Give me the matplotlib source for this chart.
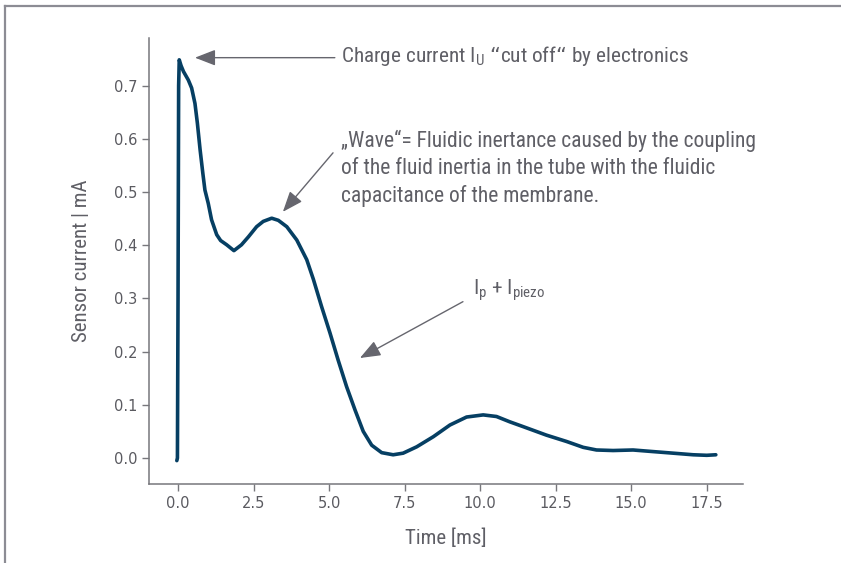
import numpy as np
import matplotlib
matplotlib.use("Agg")
import matplotlib.pyplot as plt
from matplotlib.lines import Line2D

time_ms = [-0.04, -0.02, 0.00, 0.02, 0.04, 0.10, 0.18, 0.34, 0.45, 0.56, 0.64, 0.73,
           0.82, 0.89, 1.00, 1.11, 1.28, 1.41, 1.61, 1.85, 2.10, 2.33, 2.60, 2.82,
           3.10, 3.32, 3.60, 3.93, 4.26, 4.48, 4.75, 5.03, 5.30, 5.58, 5.86, 6.13,
           6.41, 6.74, 7.12, 7.45, 7.90, 8.45, 9.00, 9.55, 10.10, 10.54, 10.98,
           11.42, 12.19, 12.86, 13.41, 13.85, 14.40, 15.06, 15.72, 16.39, 17.05,
           17.50, 17.80]
current_mA = [-0.005, 0.000, 0.300, 0.700, 0.749, 0.738, 0.727, 0.711, 0.696, 0.667,
              0.630, 0.580, 0.536, 0.504, 0.479, 0.448, 0.420, 0.409, 0.401, 0.390,
              0.401, 0.416, 0.435, 0.445, 0.451, 0.447, 0.435, 0.410, 0.373, 0.336,
              0.285, 0.235, 0.184, 0.134, 0.090, 0.050, 0.024, 0.010, 0.006, 0.009,
              0.021, 0.040, 0.062, 0.077, 0.081, 0.078, 0.068, 0.059, 0.043, 0.031,
              0.020, 0.015, 0.014, 0.015, 0.012, 0.009, 0.006, 0.005, 0.006]

note_cut = "Charge current $\\mathregular{I_U}$ \u201ccut off\u201c by electronics"
note_wave = ("\u201eWave\u201c= Fluidic inertance caused by the coupling\n"
             "of the fluid inertia in the tube with the fluidic\n"
             "capacitance of the membrane.")
note_piezo = "$\\mathregular{I_p}$ + $\\mathregular{I_{piezo}}$"

narrow = ["Liberation Sans Narrow", "Roboto Condensed", "DejaVu Sans"]
txt_col = "#5f5f66"
line_col = "#063f63"

fig = plt.figure(figsize=(8.41, 5.63), dpi=100)
ax = fig.add_axes([0.1772, 0.1403, 0.7063, 0.7922])

ax.plot(time_ms, current_mA, color=line_col, lw=2.6, solid_capstyle="round",
        solid_joinstyle="round")
ax.set_xlim(-0.96, 18.7)
ax.set_ylim(-0.049, 0.790)

ax.set_xticks(np.arange(0, 17.6, 2.5))
ax.set_yticks(np.arange(0, 0.71, 0.1))
ax.set_xticklabels([f"{v:.1f}" for v in np.arange(0, 17.6, 2.5)])
ax.set_yticklabels([f"{v:.1f}" for v in np.arange(0, 0.71, 0.1)])

for s in ["top", "right"]:
    ax.spines[s].set_visible(False)
for s in ["left", "bottom"]:
    ax.spines[s].set_color("#77777c")
    ax.spines[s].set_linewidth(1.1)
ax.tick_params(colors="#77777c", labelcolor="#5a5a60", labelsize=10.5, length=5, width=1.0)

ax.set_xlabel("Time [ms]", family=narrow, fontsize=15, color=txt_col, labelpad=13)
ax.set_ylabel("Sensor current | mA", family=narrow, fontsize=15, color=txt_col, labelpad=16)

arrow_kw = dict(arrowstyle="-|>,head_length=0.9,head_width=0.35", color="#66666e",
                lw=1.0, shrinkA=0, shrinkB=0, mutation_scale=14)

ax.annotate("", xy=(0.56, 0.753), xytext=(5.19, 0.753), arrowprops=arrow_kw)
ax.text(5.40, 0.757, note_cut, family=narrow, fontsize=15.3, color=txt_col, va="center")

ax.annotate("", xy=(3.47, 0.463), xytext=(5.13, 0.574), arrowprops=arrow_kw)
ax.text(5.40, 0.617, note_wave, family=narrow, fontsize=15.5, color=txt_col, va="top",
        linespacing=1.36)

ax.annotate("", xy=(6.02, 0.188), xytext=(9.43, 0.294), arrowprops=arrow_kw)
ax.text(9.75, 0.315, note_piezo, family=narrow, fontsize=15.3, color=txt_col, va="center")

# thin frame at top and left edge of the picture
fig.add_artist(Line2D([4.5 / 841, 1], [1 - 5.5 / 563, 1 - 5.5 / 563], color="#8c8c94", lw=1.6))
fig.add_artist(Line2D([4.5 / 841, 4.5 / 841], [0, 1 - 5.5 / 563], color="#8c8c94", lw=1.6))

fig.savefig("out.png", dpi=100)
